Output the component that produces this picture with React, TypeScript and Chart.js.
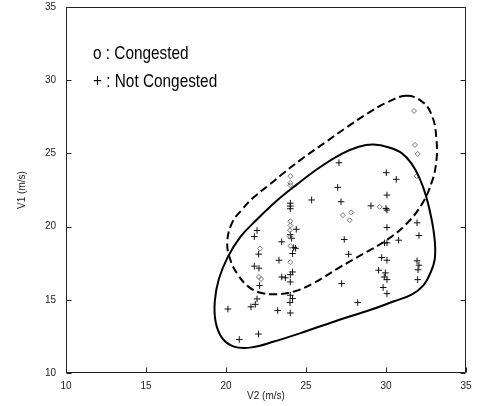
import React, { useEffect, useRef } from 'react';
import { Chart, registerables } from 'chart.js';

Chart.register(...registerables);

// ---- data ----
const congestedV2 = [31.75, 31.81, 31.98, 31.92, 27.31, 27.73, 27.83, 29.6, 24.02, 24.02, 24.02, 24.02, 24.02, 24.0, 24.0, 24.02, 24.02, 22.14, 22.06, 22.19];
const congestedV1 = [27.9, 25.58, 24.96, 23.45, 20.78, 20.44, 20.97, 21.35, 23.45, 22.99, 22.82, 20.37, 20.08, 19.75, 19.3, 18.67, 17.57, 18.5, 16.56, 16.42];

const notCongestedV2 = [
  20.12, 20.83, 21.56, 21.83, 21.94, 22.03, 21.77, 21.94, 22.04, 21.77, 22.06, 22.1,
  23.23, 23.31, 23.48, 23.48, 23.71,
  24.02, 24.02, 24.02, 24.39, 24.02, 24.1, 24.23, 24.35, 24.16, 24.16, 24.02, 24.02, 24.02, 24.16, 24.0, 24.02,
  25.35, 27.06, 26.98, 27.19, 27.39, 27.66, 27.23, 28.23, 29.06,
  30.02, 30.64, 30.06, 30.0, 30.06, 30.06, 29.91, 30.06, 30.79, 29.73, 30.06, 29.54, 29.96, 29.89, 30.06, 29.82, 30.06,
  31.94, 32.06, 31.94, 32.06, 31.98, 32.0,
];
const notCongestedV1 = [
  14.37, 12.29, 14.52, 14.69, 15.06, 12.66, 19.32, 19.73, 18.12, 17.3, 17.16, 15.97,
  14.27, 17.7, 18.96, 16.56, 16.5,
  21.6, 21.4, 21.22, 19.82, 19.45, 19.2, 18.57, 18.52, 18.16, 16.9, 16.72, 16.22, 15.31, 15.08, 14.81, 14.1,
  21.82, 24.36, 22.68, 21.7, 19.12, 18.11, 16.11, 14.81, 21.42,
  23.68, 23.23, 22.15, 21.24, 21.13, 19.94, 18.89, 18.89, 19.07, 17.89, 17.7, 17.02, 16.84, 16.56, 16.38, 15.84, 15.42,
  20.26, 19.39, 17.66, 17.36, 16.38, 17.05,
];

const solidBoundaryV2 = [29.2, 30.2, 31.0, 31.6, 32.1, 32.5, 32.85, 33.05, 33.05, 32.8, 32.35, 31.6, 30.5, 29.0, 27.0, 25.0, 23.0, 21.6, 20.5, 19.75, 19.35, 19.3, 19.55, 20.1, 20.9, 21.9, 23.1, 24.4, 25.8, 27.2, 28.3];
const solidBoundaryV1 = [25.6, 25.4, 25.0, 24.3, 23.3, 22.1, 20.5, 19.0, 17.8, 16.9, 16.0, 15.35, 14.9, 14.3, 13.6, 12.85, 12.15, 11.75, 11.8, 12.4, 13.5, 14.9, 16.4, 17.9, 19.3, 20.45, 21.7, 22.85, 24.0, 24.95, 25.45];

const dashedBoundaryV2 = [31.3, 32.3, 32.9, 33.15, 33.15, 32.85, 32.2, 31.2, 30.0, 28.6, 27.0, 25.5, 24.2, 23.0, 22.1, 21.4, 20.75, 20.25, 20.08, 20.4, 20.95, 21.73, 22.7, 23.7, 24.9, 26.2, 27.5, 28.8, 30.0];
const dashedBoundaryV1 = [28.93, 28.5, 27.5, 26.0, 24.5, 23.0, 21.45, 20.1, 19.05, 18.15, 17.15, 16.15, 15.55, 15.38, 15.5, 15.9, 16.7, 17.8, 19.0, 20.3, 21.1, 22.0, 22.85, 23.75, 24.75, 25.75, 26.75, 27.7, 28.45];

const axisMin = 10;
const axisMax = 35;
const axisStep = 5;
const legendLines = ['o : Congested', '+ : Not Congested'];
const xTitle = 'V2 (m/s)';
const yTitle = 'V1 (m/s)';

const NARROW = '"Liberation Sans Narrow", "Liberation Sans", Arial, sans-serif';

const toPoints = (xs: number[], ys: number[]) => xs.map((x, i) => ({ x, y: ys[i] }));

const loopPlugin = {
  id: 'closedLoops',
  afterDatasetsUpdate(chart: any) {
    chart.data.datasets.forEach((ds: any, i: number) => {
      if (ds.closedLoop) {
        const line: any = chart.getDatasetMeta(i).dataset;
        if (line) {
          line._loop = true;
          line._fullLoop = true;
          line._pointsUpdated = false;
          delete line._segments;
          line._path = undefined;
        }
      }
    });
  },
};

const framePlugin = {
  id: 'frameTicks',
  afterDraw(chart: any) {
    const { ctx, chartArea } = chart;
    const { left, right, top, bottom } = chartArea;
    const xs = chart.scales.x;
    const ys = chart.scales.y;
    ctx.save();
    ctx.strokeStyle = '#222';
    ctx.lineWidth = 1;
    const L = Math.round(left) + 0.5;
    const R = Math.round(right) - 0.5;
    const T = Math.round(top) + 0.5;
    const B = Math.round(bottom) - 0.5;
    ctx.beginPath();
    ctx.moveTo(L, T);
    ctx.lineTo(R, T);
    ctx.lineTo(R, B);
    ctx.lineTo(L, B);
    ctx.closePath();
    ctx.stroke();
    const len = 5;
    ctx.beginPath();
    xs.ticks.forEach((t: any) => {
      const px = Math.round(xs.getPixelForValue(t.value)) + 0.5;
      ctx.moveTo(px, B);
      ctx.lineTo(px, B - len);
    });
    ys.ticks.forEach((t: any) => {
      const py = Math.round(ys.getPixelForValue(t.value)) + 0.5;
      ctx.moveTo(L, py);
      ctx.lineTo(L + len, py);
      ctx.moveTo(R, py);
      ctx.lineTo(R - len, py);
    });
    ctx.stroke();

    // in-plot legend text
    const fs = 18.5;
    ctx.font = `${fs}px ${NARROW}`;
    const wN = ctx.measureText('Not Congested').width;
    ctx.font = `${fs}px "Liberation Sans", Arial, sans-serif`;
    const wW = ctx.measureText('Not Congested').width;
    const sx = wN < wW * 0.95 ? 1 : 0.83;
    ctx.font = `${fs}px ${NARROW}`;
    ctx.fillStyle = '#000';
    ctx.textBaseline = 'alphabetic';
    ctx.textAlign = 'left';
    legendLines.forEach((txt, i) => {
      ctx.save();
      ctx.translate(left + 27, top + 52 + i * 27.5);
      ctx.scale(sx, 1);
      ctx.fillText(txt, 0, 0);
      ctx.restore();
    });
    ctx.restore();
  },
};

export default function App() {
  const ref = useRef<HTMLCanvasElement | null>(null);

  useEffect(() => {
    if (!ref.current) return;
    const tickFont = { family: NARROW, size: 10 };
    const chart = new Chart(ref.current, {
      type: 'scatter',
      data: {
        datasets: [
          {
            type: 'line',
            label: 'solid boundary',
            data: toPoints(solidBoundaryV2, solidBoundaryV1),
            borderColor: '#000',
            borderWidth: 2,
            pointRadius: 0,
            pointHitRadius: 0,
            tension: 0.4,
            fill: false,
            closedLoop: true,
          } as any,
          {
            type: 'line',
            label: 'dashed boundary',
            data: toPoints(dashedBoundaryV2, dashedBoundaryV1),
            borderColor: '#000',
            borderWidth: 2,
            borderDash: [8, 4],
            pointRadius: 0,
            pointHitRadius: 0,
            tension: 0.4,
            fill: false,
            closedLoop: true,
          } as any,
          {
            label: 'Congested',
            data: toPoints(congestedV2, congestedV1),
            pointStyle: 'rectRot',
            pointRadius: 2.5,
            borderColor: '#777',
            backgroundColor: 'rgba(0,0,0,0)',
            borderWidth: 1,
          },
          {
            label: 'Not Congested',
            data: toPoints(notCongestedV2, notCongestedV1),
            pointStyle: 'cross',
            pointRadius: 3.3,
            borderColor: '#111',
            borderWidth: 1,
          },
        ],
      },
      options: {
        animation: false,
        responsive: false,
        layout: { padding: { top: 7, right: 18, left: 0, bottom: 0 } },
        plugins: { legend: { display: false }, tooltip: { enabled: false } },
        scales: {
          x: {
            type: 'linear',
            min: axisMin,
            max: axisMax,
            grid: { display: false, drawTicks: false },
            border: { display: false },
            ticks: { stepSize: axisStep, font: tickFont, color: '#222', padding: 7, maxRotation: 0 },
            title: { display: true, text: xTitle, font: tickFont, color: '#222', padding: { top: 0, bottom: 4 } },
            afterFit: (s: any) => { s.height = 33; s.paddingLeft = 0; s.paddingRight = 0; },
          },
          y: {
            type: 'linear',
            min: axisMin,
            max: axisMax,
            grid: { display: false, drawTicks: false },
            border: { display: false },
            ticks: { stepSize: axisStep, font: tickFont, color: '#222', padding: 10 },
            title: { display: true, text: yTitle, font: tickFont, color: '#222', padding: { top: 16, bottom: 0 } },
            afterFit: (s: any) => { s.width = 66; s.paddingTop = 0; s.paddingBottom = 0; },
          },
        },
      },
      plugins: [loopPlugin, framePlugin],
    });
    return () => chart.destroy();
  }, []);

  return (
    <div style={{ position: 'absolute', left: 0, top: 0, width: 484, height: 406, background: '#fff' }}>
      <canvas ref={ref} width={484} height={406} style={{ display: 'block' }} />
    </div>
  );
}
